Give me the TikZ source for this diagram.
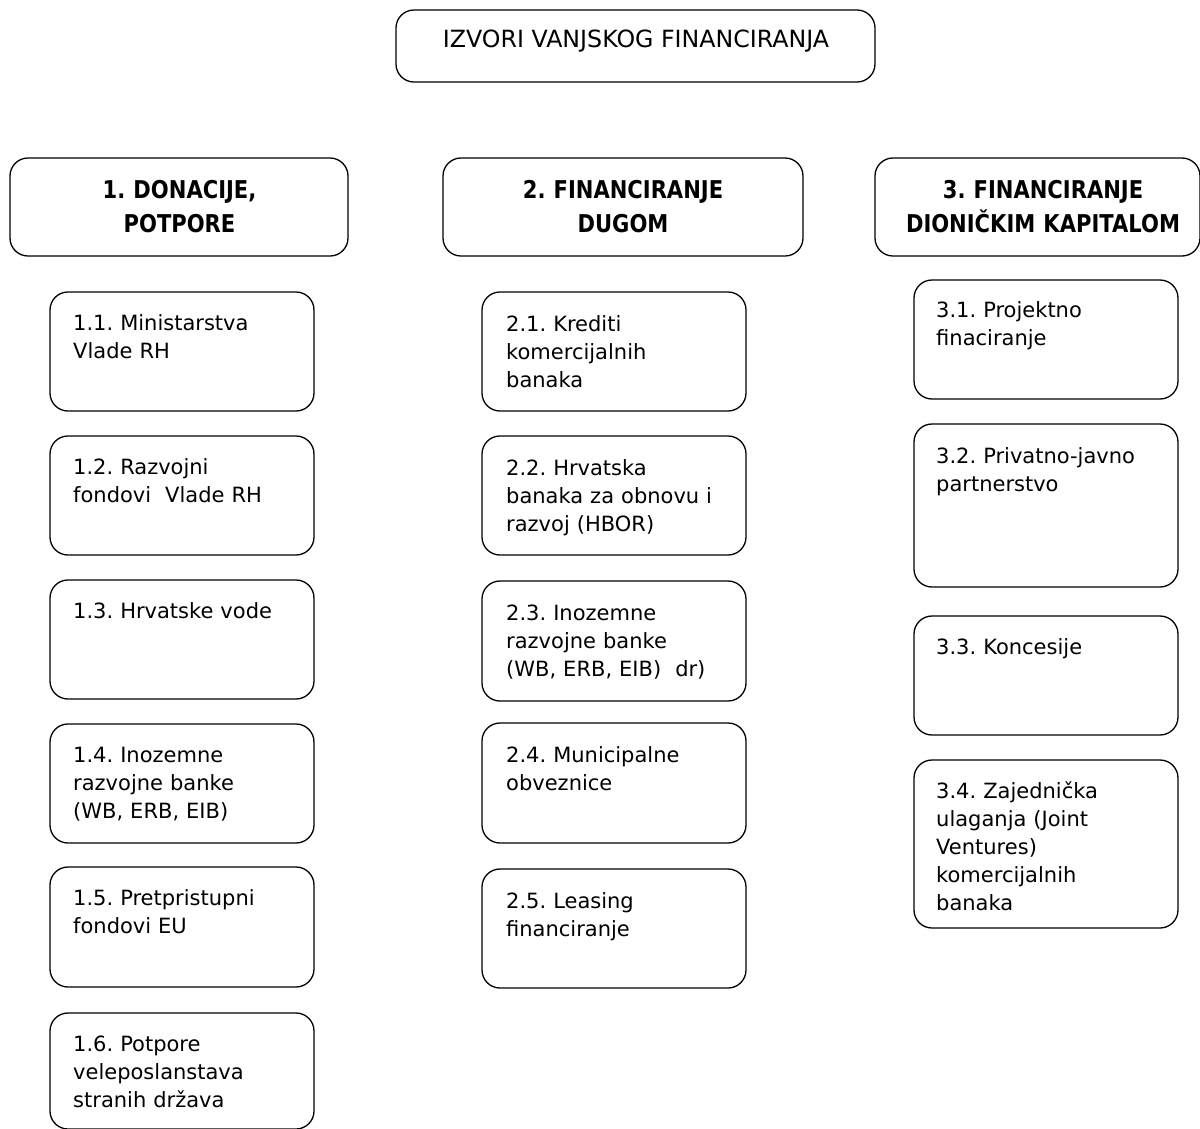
\documentclass[tikz,border=0pt]{standalone}
\usepackage{fontspec}
\setmainfont{DejaVu Sans}
\newfontfamily\hdrfont[FakeStretch=0.86]{DejaVu Sans}
\usetikzlibrary{calc}
\frenchspacing
\begin{document}
\begin{tikzpicture}[x=1pt,y=-1pt,
  box/.style={draw=black, line width=1.3pt, rounded corners=18pt, inner sep=0pt, outer sep=0pt, anchor=north west},
  txt/.style={inner sep=0pt, anchor=base west, text width=250pt, align=left, font=\frenchspacing\fontsize{21}{28}\selectfont},
  hdr/.style={inner sep=0pt, anchor=base, text width=330pt, align=center, font=\frenchspacing\hdrfont\bfseries\fontsize{24.5}{34}\selectfont},
  ttl/.style={inner sep=0pt, anchor=base, font=\fontsize{23.7}{28}\selectfont}]
\useasboundingbox (0,0) rectangle (1200,1128);
\clip (0,0) rectangle (1200,1128);
% title
\node[box, minimum width=479pt, minimum height=72pt] (title) at (396,10) {};
\node[ttl] (titletxt) at (636,47) {IZVORI VANJSKOG FINANCIRANJA};
% headers
\node[box, minimum width=338pt, minimum height=98pt] (h1) at (10,158) {};
\node[hdr] (h1t) at (179.5,198) {1. DONACIJE,\\POTPORE};
\node[box, minimum width=360pt, minimum height=98pt] (h2) at (443,158) {};
\node[hdr] (h2t) at (623,198) {2. FINANCIRANJE\\DUGOM};
\node[box, minimum width=325pt, minimum height=98pt] (h3) at (875,158) {};
\node[hdr] (h3t) at (1043,198) {3. FINANCIRANJE\\DIONIČKIM KAPITALOM};
% column 1
\node[box, minimum width=264pt, minimum height=119pt] (b11) at (50,292) {};
\node[txt] (t11) at ($(b11.north west)+(23,38)$) {1.1. Ministarstva\\Vlade RH};
\node[box, minimum width=264pt, minimum height=119pt] (b12) at (50,436) {};
\node[txt] (t12) at ($(b12.north west)+(23,38)$) {1.2. Razvojni\\fondovi\ \ Vlade RH};
\node[box, minimum width=264pt, minimum height=119pt] (b13) at (50,580) {};
\node[txt] (t13) at ($(b13.north west)+(23,38)$) {1.3. Hrvatske vode};
\node[box, minimum width=264pt, minimum height=119pt] (b14) at (50,724) {};
\node[txt] (t14) at ($(b14.north west)+(23,38)$) {1.4. Inozemne\\razvojne banke\\(WB, ERB, EIB)};
\node[box, minimum width=264pt, minimum height=120pt] (b15) at (50,867) {};
\node[txt] (t15) at ($(b15.north west)+(23,38)$) {1.5. Pretpristupni\\fondovi EU};
\node[box, minimum width=264pt, minimum height=116pt] (b16) at (50,1013) {};
\node[txt] (t16) at ($(b16.north west)+(23,38)$) {1.6. Potpore\\veleposlanstava\\stranih država};
% column 2
\node[box, minimum width=264pt, minimum height=119pt] (b21) at (482,292) {};
\node[txt] (t21) at ($(b21.north west)+(24,39)$) {2.1. Krediti\\komercijalnih\\banaka};
\node[box, minimum width=264pt, minimum height=119pt] (b22) at (482,436) {};
\node[txt] (t22) at ($(b22.north west)+(24,39)$) {2.2. Hrvatska\\banaka za obnovu i\\razvoj (HBOR)};
\node[box, minimum width=264pt, minimum height=120pt] (b23) at (482,581) {};
\node[txt] (t23) at ($(b23.north west)+(24,39)$) {2.3. Inozemne\\razvojne banke\\(WB, ERB, EIB)\ \ dr)};
\node[box, minimum width=264pt, minimum height=120pt] (b24) at (482,723) {};
\node[txt] (t24) at ($(b24.north west)+(24,39)$) {2.4. Municipalne\\obveznice};
\node[box, minimum width=264pt, minimum height=119pt] (b25) at (482,869) {};
\node[txt] (t25) at ($(b25.north west)+(24,39)$) {2.5. Leasing\\financiranje};
% column 3
\node[box, minimum width=264pt, minimum height=119pt] (b31) at (914,280) {};
\node[txt] (t31) at ($(b31.north west)+(22,37)$) {3.1. Projektno\\finaciranje};
\node[box, minimum width=264pt, minimum height=163pt] (b32) at (914,424) {};
\node[txt] (t32) at ($(b32.north west)+(22,39)$) {3.2. Privatno-javno\\partnerstvo};
\node[box, minimum width=264pt, minimum height=119pt] (b33) at (914,616) {};
\node[txt] (t33) at ($(b33.north west)+(22,38)$) {3.3. Koncesije};
\node[box, minimum width=264pt, minimum height=168pt] (b34) at (914,760) {};
\node[txt] (t34) at ($(b34.north west)+(22,38)$) {3.4. Zajednička\\ulaganja (Joint\\Ventures)\\komercijalnih\\banaka};
\end{tikzpicture}
\end{document}
